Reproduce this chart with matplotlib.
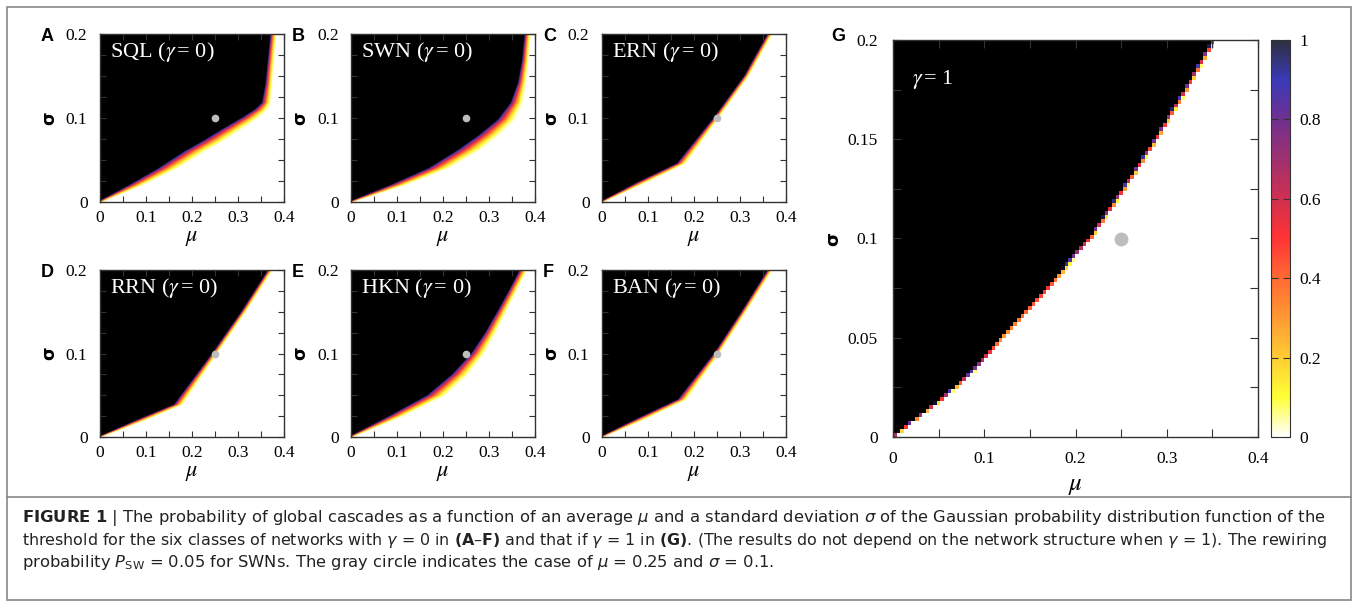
import numpy as np
import matplotlib.pyplot as plt
from matplotlib.colors import LinearSegmentedColormap, Normalize
from matplotlib.cm import ScalarMappable
from matplotlib.ticker import MultipleLocator, FuncFormatter
from matplotlib.patches import Rectangle
from matplotlib.lines import Line2D

plt.rcParams['font.family'] = ['Liberation Serif', 'DejaVu Serif']
plt.rcParams['mathtext.fontset'] = 'stix'

# ---- data ----
# boundary of the cascade region: mu where P ~ 0.5, at given sigma, plus band width (in mu)
sig_sql = [0, 0.02, 0.04, 0.06, 0.073, 0.087, 0.1, 0.11, 0.118, 0.14, 0.2]
mu_sql = [0, 0.08, 0.15, 0.208, 0.25, 0.29, 0.328, 0.352, 0.363, 0.368, 0.378]
wid_sql = [0.012, 0.035, 0.048, 0.052, 0.052, 0.048, 0.042, 0.032, 0.022, 0.017, 0.015]

sig_swn = [0, 0.0206, 0.0405, 0.0623, 0.080, 0.098, 0.118, 0.142, 0.169, 0.2]
mu_swn = [0, 0.106, 0.193, 0.259, 0.302, 0.338, 0.360, 0.371, 0.378, 0.383]
wid_swn = [0.012, 0.038, 0.05, 0.055, 0.05, 0.042, 0.03, 0.02, 0.016, 0.015]

sig_ern = [0, 0.023, 0.046, 0.1, 0.15, 0.2]
mu_ern = [0, 0.087, 0.174, 0.249, 0.315, 0.366]
wid_ern = [0.01, 0.024, 0.022, 0.013, 0.012, 0.012]

sig_rrn = [0, 0.02, 0.039, 0.1, 0.15, 0.2]
mu_rrn = [0, 0.09, 0.172, 0.25, 0.313, 0.371]
wid_rrn = [0.01, 0.024, 0.022, 0.013, 0.012, 0.012]

sig_hkn = [0, 0.025, 0.05, 0.075, 0.1, 0.125, 0.15, 0.175, 0.2]
mu_hkn = [0, 0.1, 0.187, 0.238, 0.276, 0.303, 0.327, 0.351, 0.374]
wid_hkn = [0.012, 0.036, 0.045, 0.04, 0.032, 0.026, 0.022, 0.02, 0.019]

sig_ban = [0, 0.022, 0.045, 0.1, 0.15, 0.2]
mu_ban = [0, 0.088, 0.176, 0.25, 0.309, 0.366]
wid_ban = [0.01, 0.024, 0.022, 0.013, 0.012, 0.012]

# gamma = 1 (panel G), coarse 100 x 100 grid
sig_g = [0, 0.0086, 0.0186, 0.032, 0.05, 0.075, 0.1, 0.125, 0.15, 0.175, 0.2]
mu_g = [0, 0.024, 0.053, 0.086, 0.119, 0.170, 0.216, 0.253, 0.289, 0.321, 0.352]

panel_letters = ['A', 'B', 'C', 'D', 'E', 'F']
panel_names = ['SQL', 'SWN', 'ERN', 'RRN', 'HKN', 'BAN']
panel_data = [(sig_sql, mu_sql, wid_sql), (sig_swn, mu_swn, wid_swn),
              (sig_ern, mu_ern, wid_ern), (sig_rrn, mu_rrn, wid_rrn),
              (sig_hkn, mu_hkn, wid_hkn), (sig_ban, mu_ban, wid_ban)]

dot_mu, dot_sigma = 0.25, 0.1

cbar_ticks = [0, 0.2, 0.4, 0.6, 0.8, 1]
cmap_pos = [0, 0.1, 0.2, 0.3, 0.4, 0.5, 0.6, 0.7, 0.8, 0.9, 1.0]
cmap_hex = ['#ffffff', '#ffff33', '#ffcc33', '#ff9933', '#ff6a33', '#ff3333',
            '#d03050', '#a03070', '#703090', '#3a3ab8', '#000000']
bar_top = '#2e2f3e'

caption = [
    r"$\mathbf{FIGURE\ 1}$ | The probability of global cascades as a function of an average $\mu$ and a standard deviation $\sigma$ of the Gaussian probability distribution function of the",
    r"threshold for the six classes of networks with $\gamma$ = 0 in $\mathbf{(A–F)}$ and that if $\gamma$ = 1 in $\mathbf{(G)}$. (The results do not depend on the network structure when $\gamma$ = 1). The rewiring",
    r"probability $P_{\mathrm{SW}}$ = 0.05 for SWNs. The gray circle indicates the case of $\mu$ = 0.25 and $\sigma$ = 0.1.",
]

# ---- figure ----
W, H = 1358, 608
fig = plt.figure(figsize=(W / 100, H / 100), dpi=100)


def fx(x):
    return x / W


def fy(y):
    return 1 - y / H


def box(x0, y0, x1, y1):
    return [fx(x0), fy(y1), (x1 - x0) / W, (y1 - y0) / H]


cmap = LinearSegmentedColormap.from_list('casc', list(zip(cmap_pos, cmap_hex)))
cmap_bar = LinearSegmentedColormap.from_list('casc_bar', list(zip(cmap_pos, cmap_hex[:-1] + [bar_top])))
fmt = FuncFormatter(lambda v, _: '0' if abs(v) < 1e-9 else f'{v:g}')


def cascade_map(mu_c, sig_c, sig_k, mu_k, wid_k, power):
    MU, SG = np.meshgrid(mu_c, sig_c)
    edge = np.interp(SG, sig_k, mu_k)
    wid = np.interp(SG, sig_k, wid_k)
    t = np.clip((MU - edge) / wid + 0.5, 0, 1)
    return (1 - t) ** power


def style(ax, ymaj, ymin, ln, xpad, ypad):
    ax.set_xlim(0, 0.4)
    ax.set_ylim(0, 0.2)
    ax.xaxis.set_major_locator(MultipleLocator(0.1))
    ax.xaxis.set_minor_locator(MultipleLocator(0.05))
    ax.yaxis.set_major_locator(MultipleLocator(ymaj))
    ax.yaxis.set_minor_locator(MultipleLocator(ymin))
    ax.xaxis.set_major_formatter(fmt)
    ax.yaxis.set_major_formatter(fmt)
    ax.tick_params(which='both', direction='in', top=True, right=True,
                   length=ln, width=0.8, color='#333333', labelsize=12.5)
    ax.tick_params(axis='x', pad=xpad)
    ax.tick_params(axis='y', pad=ypad)
    for s in ax.spines.values():
        s.set_color('#333333')
        s.set_linewidth(1.0)


# small panels
lefts = [100, 351, 602]
rows = [(34, 202), (270, 437)]
mu_fine = np.arange(0.0005, 0.4, 0.001)
sig_fine = np.arange(0.0005, 0.2, 0.001)

for i, (letter, name, (sk, mk, wk)) in enumerate(zip(panel_letters, panel_names, panel_data)):
    x0 = lefts[i % 3]
    y0, y1 = rows[i // 3]
    x1 = x0 + 184
    ax = fig.add_axes(box(x0, y0, x1, y1))
    P = cascade_map(mu_fine, sig_fine, sk, mk, wk, 2)
    ax.imshow(P, cmap=cmap, vmin=0, vmax=1, origin='lower', extent=(0, 0.4, 0, 0.2),
              aspect='auto', interpolation='bilinear')
    ax.plot(dot_mu, dot_sigma, 'o', color='#bdbdbd', markersize=5.5, markeredgewidth=0)
    ax.text(0.055, 0.89, name + r' ($\gamma\,$= 0)', color='white', fontsize=16,
            transform=ax.transAxes, ha='left', va='center')
    style(ax, 0.1, 0.025, 4, 6, 9)
    fig.text(fx(x0 - 59), fy(y0 - 6), letter, fontsize=13, fontweight='bold',
             family='Liberation Sans', ha='left', va='top')
    fig.text(fx(x0 - 51), fy((y0 + y1) / 2), 'σ', rotation=90, fontsize=12.5,
             fontweight='bold', family='DejaVu Sans', ha='center', va='center')
    fig.text(fx((x0 + x1) / 2), fy(y1 + 27), r'$\mu$', fontsize=16, ha='center', va='top')

# panel G
gx0, gy0, gx1, gy1 = 893, 40, 1258, 437
axg = fig.add_axes(box(gx0, gy0, gx1, gy1))
mu_cells = np.arange(0.002, 0.4, 0.004)
sig_cells = np.arange(0.001, 0.2, 0.002)
PG = cascade_map(mu_cells, sig_cells, sig_g, mu_g, [0.005] * len(sig_g), 1)
axg.imshow(PG, cmap=cmap, vmin=0, vmax=1, origin='lower', extent=(0, 0.4, 0, 0.2),
           aspect='auto', interpolation='nearest')
axg.plot(dot_mu, dot_sigma, 'o', color='#bdbdbd', markersize=10, markeredgewidth=0)
axg.text(0.052, 0.90, r'$\gamma\,$= 1', color='white', fontsize=16,
         transform=axg.transAxes, ha='left', va='center')
style(axg, 0.05, 0.025, 6, 10, 11)
fig.text(fx(831), fy(28), 'G', fontsize=13, fontweight='bold', family='Liberation Sans',
         ha='left', va='top')
fig.text(fx(833), fy((gy0 + gy1) / 2), 'σ', rotation=90, fontsize=13, fontweight='bold',
         family='DejaVu Sans', ha='center', va='center')
fig.text(fx((gx0 + gx1) / 2), fy(475), r'$\mu$', fontsize=18, ha='center', va='top')

# colorbar
cax = fig.add_axes(box(1271, 40, 1290, 437))
cb = fig.colorbar(ScalarMappable(norm=Normalize(0, 1), cmap=cmap_bar), cax=cax)
cb.set_ticks(cbar_ticks)
cb.ax.yaxis.set_major_formatter(fmt)
cb.outline.set_edgecolor('#333333')
cb.outline.set_linewidth(0.8)
cax.tick_params(direction='in', left=True, right=True, length=5, width=0.8,
                color='#333333', labelsize=12.5, pad=7)
cax.minorticks_off()

# frame and caption
fig.add_artist(Rectangle((fx(7), fy(600)), (1351 - 7) / W, (600 - 7) / H,
                         transform=fig.transFigure, fill=False, edgecolor='#888888', linewidth=1.2))
fig.add_artist(Line2D([fx(7), fx(1351)], [fy(497), fy(497)], transform=fig.transFigure,
                      color='#888888', linewidth=1.2))

# caption lines: fit the first two to the width of the reference text block
renderer = fig.canvas.get_renderer()
target_w = 1323 - 22
base_size = 11.8
sizes = []
for k, line in enumerate(caption):
    t = fig.text(fx(22), fy(518 + 22.5 * k), line, fontsize=base_size, family='DejaVu Sans',
                 math_fontfamily='dejavusans', color='#222222', ha='left', va='center')
    if k < 2:
        w = t.get_window_extent(renderer).width
        t.set_fontsize(base_size * target_w / w)
        sizes.append(base_size * target_w / w)
    else:
        t.set_fontsize(sizes[0])

fig.savefig('out.png', dpi=100)
